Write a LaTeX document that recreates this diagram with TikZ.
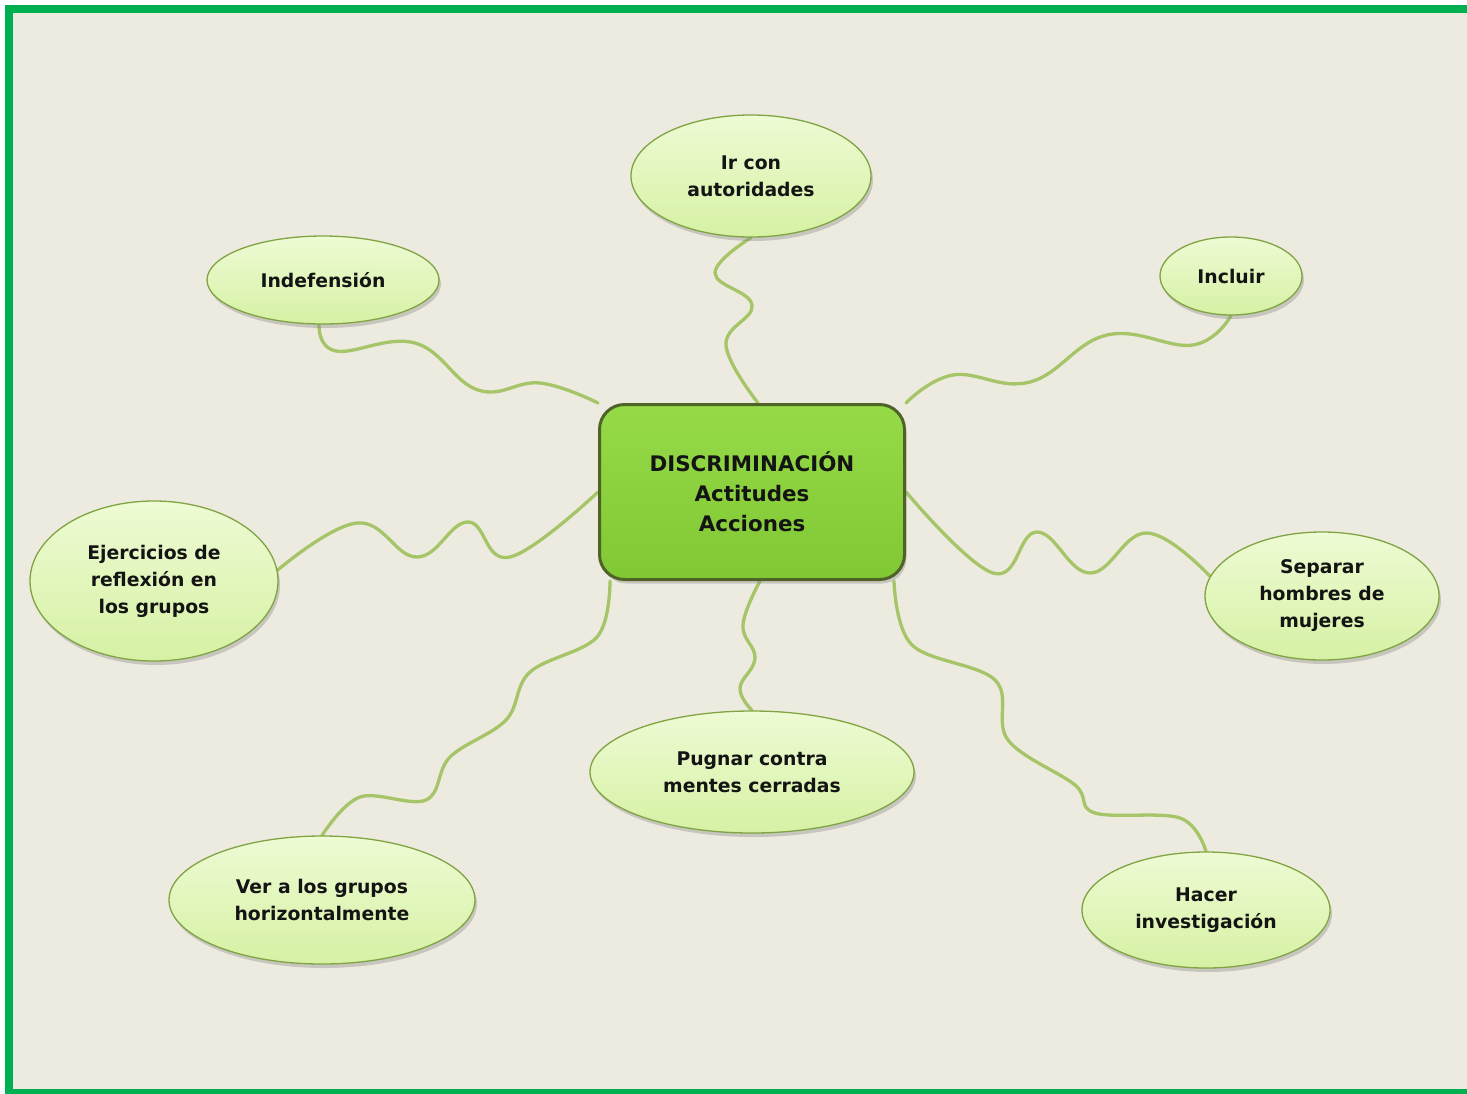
\documentclass[tikz,border=0pt]{standalone}
\usepackage{fontspec}
\setmainfont{DejaVu Sans}
\usepackage{tikz}
\usetikzlibrary{shapes.geometric,shadows,calc}

\definecolor{bgcream}{RGB}{237,235,224}
\definecolor{framegreen}{RGB}{0,176,80}
\definecolor{linkgreen}{RGB}{166,196,104}
\definecolor{bubtop}{RGB}{238,251,212}
\definecolor{bubbot}{RGB}{214,241,164}
\definecolor{bubedge}{RGB}{128,164,66}
\definecolor{hubtop}{RGB}{150,218,72}
\definecolor{hubbot}{RGB}{128,200,52}
\definecolor{hubedge}{RGB}{79,98,40}

\pgfdeclarelayer{background}
\pgfsetlayers{background,main}

\begin{document}
\begin{tikzpicture}[x=1pt, y=-1pt,
  bubble/.style={ellipse, draw=bubedge, line width=1.3pt,
    top color=bubtop, bottom color=bubbot, inner sep=0pt, align=center,
    font=\fontsize{18.8}{27}\selectfont\bfseries, text=black!92,
    drop shadow={shadow xshift=2pt, shadow yshift=-4pt, opacity=0.35}},
  hub/.style={rectangle, rounded corners=25pt, draw=hubedge, line width=3pt,
    top color=hubtop, bottom color=hubbot, align=center,
    minimum width=305pt, minimum height=175pt,
    font=\fontsize{21.4}{30}\selectfont\bfseries, text=black!92,
    drop shadow={shadow xshift=2pt, shadow yshift=-4pt, opacity=0.35}},
  link/.style={draw=linkgreen, line width=3.3pt, line cap=round}]

  \useasboundingbox (0,0) rectangle (1467,1093);

  % Central box
  \node[hub] (hub) at (752,492) {DISCRIMINACIÓN\\Actitudes\\Acciones};

  % Bubbles
  \node[bubble, minimum width=240pt, minimum height=122pt] (auto) at (751,176) {Ir con\\autoridades};
  \node[bubble, minimum width=232pt, minimum height=88pt]  (indef) at (323,280) {Indefensión};
  \node[bubble, minimum width=142pt, minimum height=78pt]  (incl) at (1231,276) {Incluir};
  \node[bubble, minimum width=248pt, minimum height=160pt] (ejer) at (154,581) {Ejercicios de\\reflexión en\\los grupos};
  \node[bubble, minimum width=234pt, minimum height=128pt] (sep) at (1322,596) {Separar\\hombres de\\mujeres};
  \node[bubble, minimum width=324pt, minimum height=122pt] (pugnar) at (752,772) {Pugnar contra\\mentes cerradas};
  \node[bubble, minimum width=306pt, minimum height=128pt] (ver) at (322,900) {Ver a los grupos\\horizontalmente};
  \node[bubble, minimum width=248pt, minimum height=116pt] (hacer) at (1206,910) {Hacer\\investigación};

  \begin{pgfonlayer}{background}
    % Frame
    \fill[white] (0,0) rectangle (1467,1093);
    \fill[bgcream] (9,9) rectangle (1480,1093);
    \draw[framegreen, line width=8pt] (9,9) rectangle (1480,1093);

    % Wavy links
    \draw[link] plot[smooth, tension=0.7] coordinates
      {($(hub.north)+(6,0)$) (726,345) (752,305) (715,273) (auto.south)};
    \draw[link] plot[smooth, tension=0.7] coordinates
      {(hub.north west) (540,383) (478,390) (415,343) (336,351) (indef.-95)};
    \draw[link] plot[smooth, tension=0.7] coordinates
      {(hub.north east) (953,375) (1030,382) (1107,335) (1193,345) (incl.south)};
    \draw[link] plot[smooth, tension=0.7] coordinates
      {(hub.west) (510,557) (468,522) (417,557) (357,523) (ejer.5)};
    \draw[link] plot[smooth, tension=0.7] coordinates
      {(hub.east) (993,573) (1037,532) (1090,573) (1147,533) (sep.170)};
    \draw[link] plot[smooth, tension=0.7] coordinates
      {($(hub.south)+(8,0)$) (743,625) (755,658) (740,688) (pugnar.north)};
    \draw[link] plot[smooth, tension=0.6] coordinates
      {($(hub.south west)+(12,0)$) (597,637) (530,672) (506,720) (450,757)
       (426,800) (360,797) (ver.north)};
    \draw[link] plot[smooth, tension=0.6] coordinates
      {($(hub.south east)+(-12,0)$) (912,645) (995,680) (1008,740) (1075,785)
       (1095,813) (1180,818) (hacer.north)};
  \end{pgfonlayer}
\end{tikzpicture}
\end{document}
